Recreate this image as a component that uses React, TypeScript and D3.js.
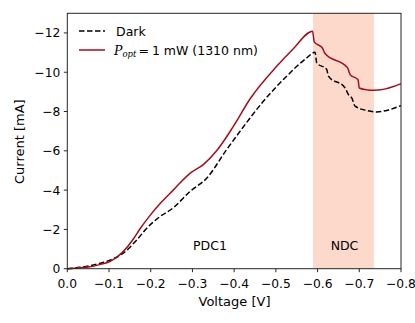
import React from 'react';
import * as d3 from 'd3';

// Dark current (voltage [V], current [mA])
const darkV = [0, -0.03, -0.06, -0.086, -0.11, -0.134, -0.166, -0.19, -0.222, -0.254, -0.294, -0.334, -0.382, -0.414, -0.47, -0.526, -0.574, -0.594,
  -0.598, -0.622, -0.626, -0.666, -0.674, -0.682, -0.69, -0.718, -0.742, -0.77, -0.8];
const darkI = [0, -0.07, -0.18, -0.32, -0.5, -0.79, -1.45, -2.05, -2.65, -3.1, -3.93, -4.6, -6.06, -6.99, -8.52, -9.8, -10.73, -11.02,
  -10.48, -10.14, -9.8, -9.2, -8.86, -8.69, -8.27, -8.05, -7.98, -8.08, -8.3];

// Illuminated, P_opt = 1 mW
const lightV = [0, -0.03, -0.054, -0.08, -0.102, -0.134, -0.158, -0.174, -0.198, -0.222, -0.254, -0.294, -0.326, -0.358, -0.398, -0.438, -0.502, -0.542, -0.588,
  -0.592, -0.612, -0.617, -0.672, -0.678, -0.697, -0.7, -0.72, -0.735, -0.76, -0.78, -0.8];
const lightI = [0, -0.05, -0.1, -0.22, -0.36, -0.87, -1.5, -2.02, -2.7, -3.3, -4.0, -4.85, -5.3, -6.0, -7.24, -8.64, -10.3, -11.2, -12.09,
  -11.55, -11.22, -10.98, -10.22, -9.88, -9.62, -9.2, -9.1, -9.08, -9.14, -9.26, -9.42];

const ndcRange = [-0.589, -0.735];
const xTicks = [0, -0.1, -0.2, -0.3, -0.4, -0.5, -0.6, -0.7, -0.8];
const yTicks = [0, -2, -4, -6, -8, -10, -12];

const W = 415, H = 323;
const m = { left: 67.3, right: 14, top: 13.3, bottom: 54.3 };

export default function App() {
  const x = d3.scaleLinear().domain([0, -0.8]).range([m.left, W - m.right]);
  const y = d3.scaleLinear().domain([0, -13]).range([H - m.bottom, m.top]);
  const line = d3.line<[number, number]>().x(d => x(d[0])).y(d => y(d[1])).curve(d3.curveMonotoneX);
  const dark = line(darkV.map((v, i) => [v, darkI[i]]) as [number, number][]) || '';
  const light = line(lightV.map((v, i) => [v, lightI[i]]) as [number, number][]) || '';
  const fx = d3.format('.1f');
  const fy = d3.format('d');
  const font = 'DejaVu Sans, sans-serif';
  const x0 = m.left, x1 = W - m.right, y0 = H - m.bottom, y1 = m.top;

  return (
    <svg width={W} height={H} style={{ position: 'absolute', left: 0, top: 0, background: '#fff' }} fontFamily={font}>
      <rect x={x(ndcRange[0])} y={y1} width={x(ndcRange[1]) - x(ndcRange[0])} height={y0 - y1} fill="#fdd9cb" />
      <path d={dark} fill="none" stroke="#000" strokeWidth={1.5} strokeDasharray="5.5,2.5" />
      <path d={light} fill="none" stroke="#a0101e" strokeWidth={1.5} />
      <text x={210} y={249.5} fontSize={12.5} textAnchor="middle">PDC1</text>
      <text x={344.5} y={249.5} fontSize={12.5} textAnchor="middle">NDC</text>
      <rect x={x0} y={y1} width={x1 - x0} height={y0 - y1} fill="none" stroke="#262626" strokeWidth={1} />
      {xTicks.map(t => (
        <g key={'x' + t}>
          <line x1={x(t)} x2={x(t)} y1={y0} y2={y0 + 3.5} stroke="#262626" />
          <text x={x(t)} y={288} fontSize={12.3} textAnchor="middle">{fx(t)}</text>
        </g>
      ))}
      {yTicks.map(t => (
        <g key={'y' + t}>
          <line x1={x0 - 3.5} x2={x0} y1={y(t)} y2={y(t)} stroke="#262626" />
          <text x={x0 - 7} y={y(t) + 4.4} fontSize={12.3} textAnchor="end">{fy(t)}</text>
        </g>
      ))}
      <text x={234.5} y={305.5} fontSize={13} textAnchor="middle">Voltage [V]</text>
      <text transform={`translate(23.5,141.7) rotate(-90)`} fontSize={13} textAnchor="middle">Current [mA]</text>
      <line x1={79} x2={105} y1={31} y2={31} stroke="#000" strokeWidth={1.5} strokeDasharray="5.5,2.5" />
      <text x={116} y={35.5} fontSize={12.5}>Dark</text>
      <line x1={79} x2={105} y1={50} y2={50} stroke="#a0101e" strokeWidth={1.5} />
      <text x={114} y={54.5} fontSize={12.5}>
        <tspan fontFamily="DejaVu Serif, serif" fontStyle="italic">P</tspan>
        <tspan fontFamily="DejaVu Serif, serif" fontStyle="italic" fontSize={8.5} dy={2.5}>opt</tspan>
        <tspan dy={-2.5} dx={2}>=</tspan>
        <tspan dx={3}>1 mW (1310 nm)</tspan>
      </text>
    </svg>
  );
}
